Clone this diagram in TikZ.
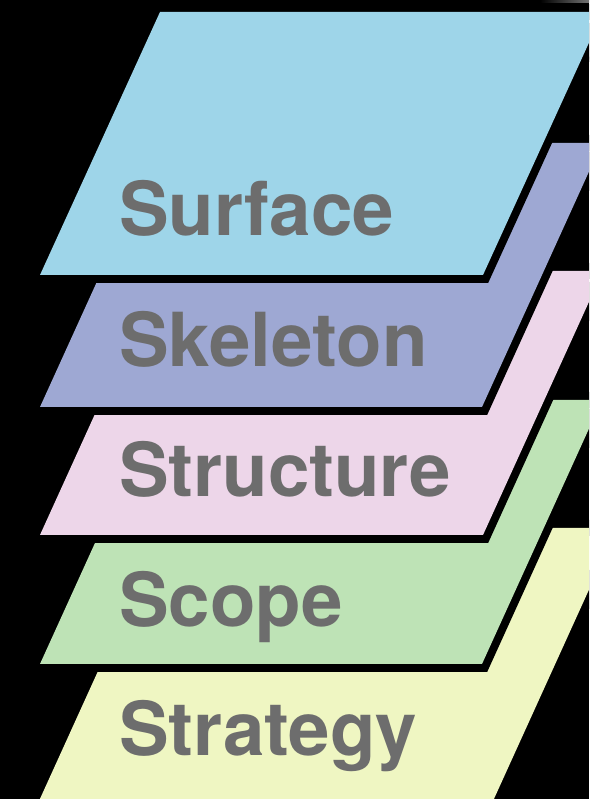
\documentclass[tikz,border=0pt]{standalone}
\usepackage{fontspec}
\setmainfont{TeX Gyre Heros}
\usepackage{tkz-euclide}
\definecolor{SurfaceClr}{RGB}{158,213,233}
\definecolor{SkeletonClr}{RGB}{158,168,211}
\definecolor{StructureClr}{RGB}{237,214,233}
\definecolor{ScopeClr}{RGB}{190,227,182}
\definecolor{StrategyClr}{RGB}{239,246,194}
\definecolor{LabelClr}{RGB}{109,109,109}

\begin{document}
\begin{tikzpicture}[x=1pt,y=1pt,
  layer/.style={fill=#1,preaction={draw=black,line width=16pt,line join=miter}},
  plane/.style={anchor=base west,inner sep=0pt,text=LabelClr,
    font=\fontsize{74.5}{80}\selectfont\bfseries}]
\useasboundingbox (0,0) rectangle (589,799);
\fill[black] (0,0) rectangle (589,799);
\clip (0,0) rectangle (589,799);

% faint edges of something behind, top right
\shade[left color=black,right color=black!55!white] (540,796) rectangle (589,799);
\draw[black!70!white,line width=1pt] (583,727) -- (591,745);

% corners of the five planes, back to front
\tkzDefPoints{39/-2/A5,493/-2/B5,617/271/C5,163/271/D5}
\tkzDefPoints{40/135/A4,482/135/B4,602/399/C4,160/399/D4}
\tkzDefPoints{40/264/A3,483/264/B3,603/528/C3,160/528/D3}
\tkzDefPoints{40/392/A2,482/392/B2,602/656/C2,160/656/D2}
\tkzDefPoints{40/524/A1,483/524/B1,603/787/C1,160/787/D1}

\tkzFillPolygon[layer=StrategyClr](A5,B5,C5,D5)
\tkzFillPolygon[layer=ScopeClr](A4,B4,C4,D4)
\tkzFillPolygon[layer=StructureClr](A3,B3,C3,D3)
\tkzFillPolygon[layer=SkeletonClr](A2,B2,C2,D2)
\tkzFillPolygon[layer=SurfaceClr](A1,B1,C1,D1)

% labels
\node[plane] (surface) at (119,563) {Surface};
\node[plane] (skeleton) at (119,432) {Skeleton};
\node[plane] (structure) at (119,302) {Structure};
\node[plane] (scope) at (119,172) {Scope};
\node[plane] (strategy) at (119,43) {Strategy};

\end{tikzpicture}
\end{document}
